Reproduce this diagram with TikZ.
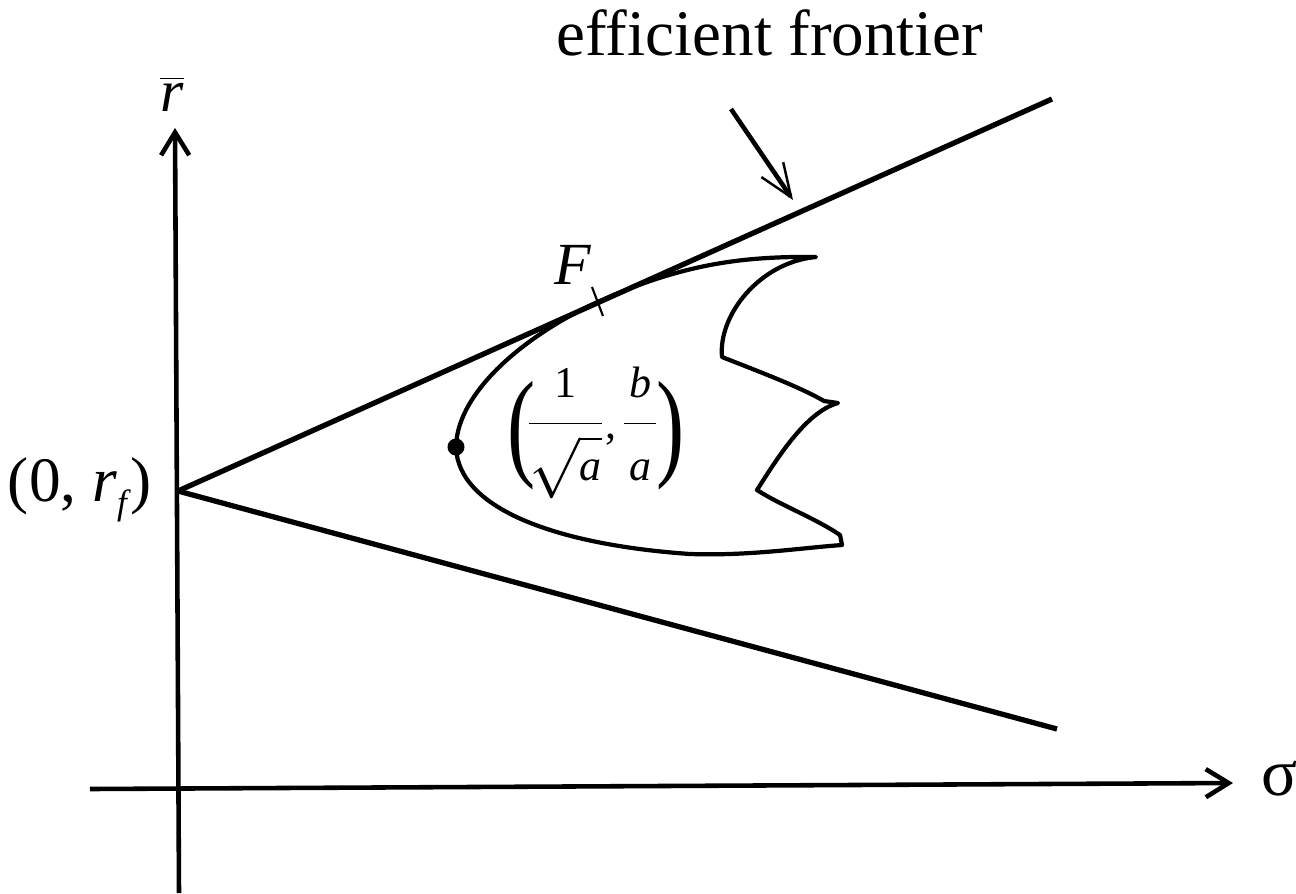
\documentclass[tikz,border=0pt]{standalone}
\usepackage{graphicx}
\usepackage{fontspec}
\setmainfont{Liberation Serif}
\usetikzlibrary{arrows.meta}
\newcommand\smtxt[1]{\mbox{\fontsize{12.5}{14}\selectfont #1}}
\newcommand\bigparen[1]{\raisebox{-7.4pt}{\scalebox{1}[1.42]{\fontsize{24}{26}\selectfont #1}}}
\begin{document}
\begin{tikzpicture}[x=0.01cm,y=-0.01cm,
  axis/.style={line width=1.3pt,-{Straight Barb[length=6.5pt,width=8pt,line width=1.3pt]}},
  ray/.style={line width=1.5pt},
  region/.style={line width=1.2pt,line join=round},
  lbl/.style={inner sep=0pt,font=\fontsize{17}{20}\selectfont}]
\useasboundingbox (0,0) rectangle (1296,893);
% axes
\coordinate (ybot) at (179,893);
\coordinate (ytop) at (175,128);
\coordinate (xl) at (90,789);
\coordinate (xr) at (1233,783);
\draw[axis] (ybot) -- (ytop);
\draw[axis] (xl) -- (xr);
% rays from risk-free point
\coordinate (O) at (178,491);
\coordinate (U) at (1052,99);
\coordinate (L) at (1057,729);
\draw[ray] (O) -- (U);
\draw[ray] (O) -- (L);
% labels
\node[lbl] (rbar) at (172,94) {$\overline{\mbox{\textit{r}}}$};
\node[lbl,font=\fontsize{19}{22}\selectfont] (sigma) at (1280,779) {σ};
\node[lbl,font=\fontsize{18}{21}\selectfont] (rf) at (80,490) {(0, \textit{r}\raisebox{-0.45ex}{\fontsize{10}{12}\selectfont\textit{f}})};
\node[lbl,font=\fontsize{18.5}{22}\selectfont] (eff) at (770,33) {efficient frontier};
% arrow to efficient frontier
\coordinate (efs) at (731,109);
\coordinate (eft) at (793,200);
\draw[line width=1.3pt,-{Straight Barb[length=9.5pt,width=7.5pt,line width=0.7pt]}] (efs) -- (eft);
% tangency point F
\coordinate (t1) at (592,287);
\coordinate (t2) at (603,316);
\draw[line width=0.6pt] (t1) -- (t2);
\node[lbl] (F) at (573,265) {\textit{F}};
% feasible region
\draw[region] (816,257)
  .. controls (740,256) and (680,265) .. (600,301)
  .. controls (530,332) and (457,390) .. (456,447)
  .. controls (458,510) and (560,545) .. (690,554)
  .. controls (750,556) and (800,548) .. (842,545)
  -- (840,535)
  .. controls (815,518) and (780,505) .. (757,490)
  .. controls (775,462) and (805,412) .. (838,403)
  -- (824,401)
  .. controls (800,387) and (760,372) .. (722,357)
  .. controls (718,315) and (760,262) .. cycle;
\node[circle,fill,inner sep=0pt,minimum size=0.17cm] (dot) at (456,447) {};
\node[lbl,font=\fontsize{16}{19}\selectfont] (frac) at (596,433)
  {\bigparen{(}\kern-3pt$\displaystyle\frac{\smtxt{1}}{\sqrt{\smtxt{\textit{a}}}}\mathpunct{\smtxt{,}}\kern-2pt\frac{\smtxt{\makebox[9pt]{\textit{b}}}}{\smtxt{\textit{a}}}$\kern-1pt\bigparen{)}};
\end{tikzpicture}
\end{document}
